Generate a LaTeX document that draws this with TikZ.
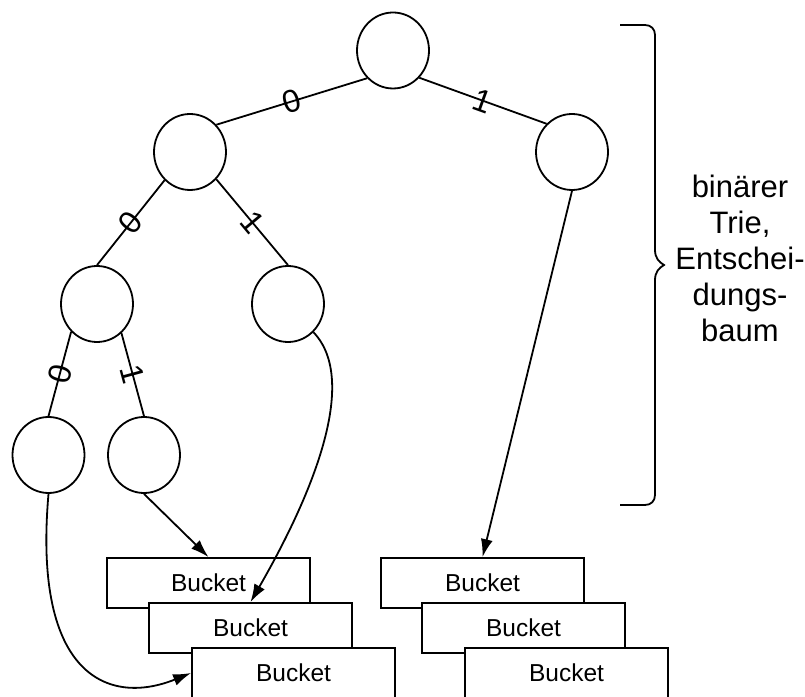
\documentclass[tikz,border=0pt]{standalone}
\usepackage{fontspec}
\setmainfont{Liberation Sans}
\usetikzlibrary{shapes.geometric,arrows.meta}
\begin{document}
\begin{tikzpicture}[x=1pt,y=1pt,
  tnode/.style={draw, ellipse, minimum width=72pt, minimum height=76pt, inner sep=0pt, line width=1.8pt},
  edge/.style={line width=1.8pt},
  lbl/.style={sloped, font=\fontsize{32}{32}\selectfont, inner sep=0pt},
  bucket/.style={draw, fill=white, minimum width=203pt, minimum height=50pt, inner sep=0pt, line width=1.8pt, font=\fontsize{24.5}{24.5}\selectfont},
  arr/.style={line width=1.8pt, -{Latex[length=18pt,width=12pt]}}]
\useasboundingbox (0,0) rectangle (805,696);
\clip (0,0) rectangle (805,696);

% tree nodes
\node[tnode] (root) at (393,645.5) {};
\node[tnode] (L) at (190,544) {};
\node[tnode] (R) at (572,544) {};
\node[tnode] (LL) at (97,392) {};
\node[tnode] (LR) at (288,392) {};
\node[tnode] (LLL) at (48.5,241) {};
\node[tnode] (LLR) at (144,241) {};

% tree edges
\draw[edge] (root.227) -- node[lbl]{0} (L.46);
\draw[edge] (root.314.5) -- node[lbl]{1} (R.132);
\draw[edge] (L.228) -- node[lbl]{0} (LL.north);
\draw[edge] (L.314) -- node[lbl]{1} (LR.north);
\draw[edge] (LL.227) -- node[lbl]{0} (LLL.north);
\draw[edge] (LL.310) -- node[lbl]{1} (LLR.north);

% buckets
\node[bucket] (lb1) at (208.5,113) {Bucket};
\node[bucket] (lb2) at (250.5,68) {Bucket};
\node[bucket] (lb3) at (293.5,23) {Bucket};
\node[bucket] (rb1) at (482.5,113) {Bucket};
\node[bucket] (rb2) at (523.5,68) {Bucket};
\node[bucket] (rb3) at (566.5,23) {Bucket};

% pointers
\draw[arr] (LLR.south) -- (lb1.north);
\draw[arr] (LR.312) .. controls +(47,-49) and +(60,104) .. (lb2.north);
\draw[arr] (LLL.south) .. controls +(-16,-183) and +(-82,-33) .. (lb3.west);
\draw[arr] (R.south) -- (rb1.north);

% brace
\draw[line width=1.8pt] (620,671) -- (645,671) .. controls (651,671) and (655,667) .. (655,661)
  -- (655,446) .. controls (655,438) and (659,434) .. (664,431)
  .. controls (659,428) and (655,424) .. (655,416)
  -- (655,201) .. controls (655,195) and (651,191) .. (645,191) -- (620,191);

\node[align=center, font=\fontsize{31}{36}\selectfont] (txt) at (740,438) {binärer\\Trie,\\Entschei-\\dungs-\\baum};
\end{tikzpicture}
\end{document}
